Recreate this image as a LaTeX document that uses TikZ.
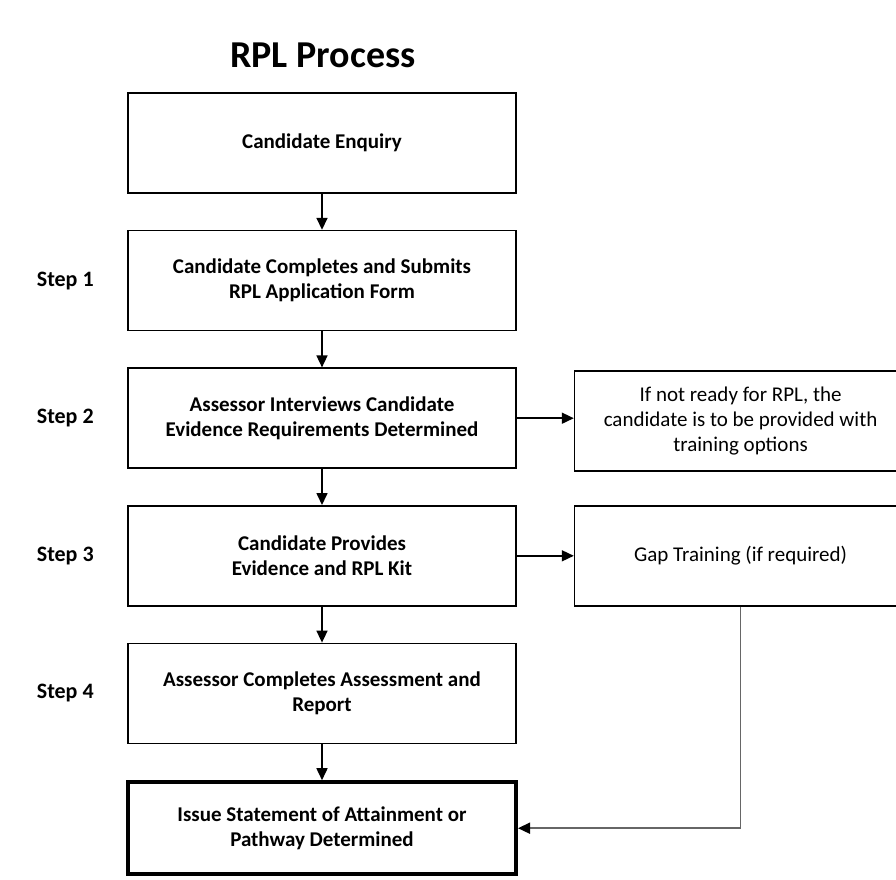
\documentclass[tikz,border=0pt]{standalone}
\usepackage{fontspec}
\setmainfont{Carlito}
\usetikzlibrary{arrows.meta, positioning}

\begin{document}
\begin{tikzpicture}[
    x=1pt, y=-1pt,
    node distance = 36pt and 57pt,
    boks/.style = {rectangle, draw, line width=1.6pt, minimum width=388pt,
        minimum height=100pt, align=center,
        font=\bfseries\fontsize{21}{25}\selectfont},
    side/.style = {rectangle, draw, line width=1.6pt, minimum width=332pt,
        minimum height=100pt, align=center,
        font=\fontsize{21}{25}\selectfont},
    steg/.style = {font=\bfseries\fontsize{22}{26}\selectfont},
    pil/.style = {black, line width=1.6pt, -{Triangle[length=12pt,width=11pt,color=black]}}
    ]
    \useasboundingbox (0,0) rectangle (896,879);
    %nodes
    \node[font=\bfseries\fontsize{38}{44}\selectfont] (title) at (323,55) {RPL Process};
    \node[boks] (enq) at (322,143) {Candidate Enquiry};
    \node[boks] (sub) [below=of enq]
        {Candidate Completes and Submits\\RPL Application Form};
    \node[boks] (int) [below=of sub]
        {Assessor Interviews Candidate\\Evidence Requirements Determined};
    \node[boks] (evi) [below=of int]
        {Candidate Provides\\Evidence and RPL Kit};
    \node[boks] (ass) [below=of evi]
        {Assessor Completes Assessment and\\Report};
    \node[boks, line width=4pt, minimum height=92pt] (iss) [below=of ass]
        {Issue Statement of Attainment or\\Pathway Determined};

    \node[side] (ready) [right=of int, yshift=-3pt]
        {If not ready for RPL, the\\candidate is to be provided with\\training options};
    \node[side] (gap) [right=of evi] {Gap Training (if required)};

    \node[steg] (s1) [left=30pt of sub] {Step 1};
    \node[steg] (s2) [left=30pt of int] {Step 2};
    \node[steg] (s3) [left=30pt of evi] {Step 3};
    \node[steg] (s4) [left=30pt of ass] {Step 4};

    % edges
    \draw[pil] (enq) edge (sub)
    (sub) edge (int)
    (int) edge (evi)
    (evi) edge (ass)
    (ass) edge (iss);
    \draw[pil] (int.east) -- (int.east -| ready.west);
    \draw[pil] (evi.east) -- (evi.east -| gap.west);
    \draw[pil, draw=gray!80!black] (gap.south) |- (iss.east);
\end{tikzpicture}
\end{document}
